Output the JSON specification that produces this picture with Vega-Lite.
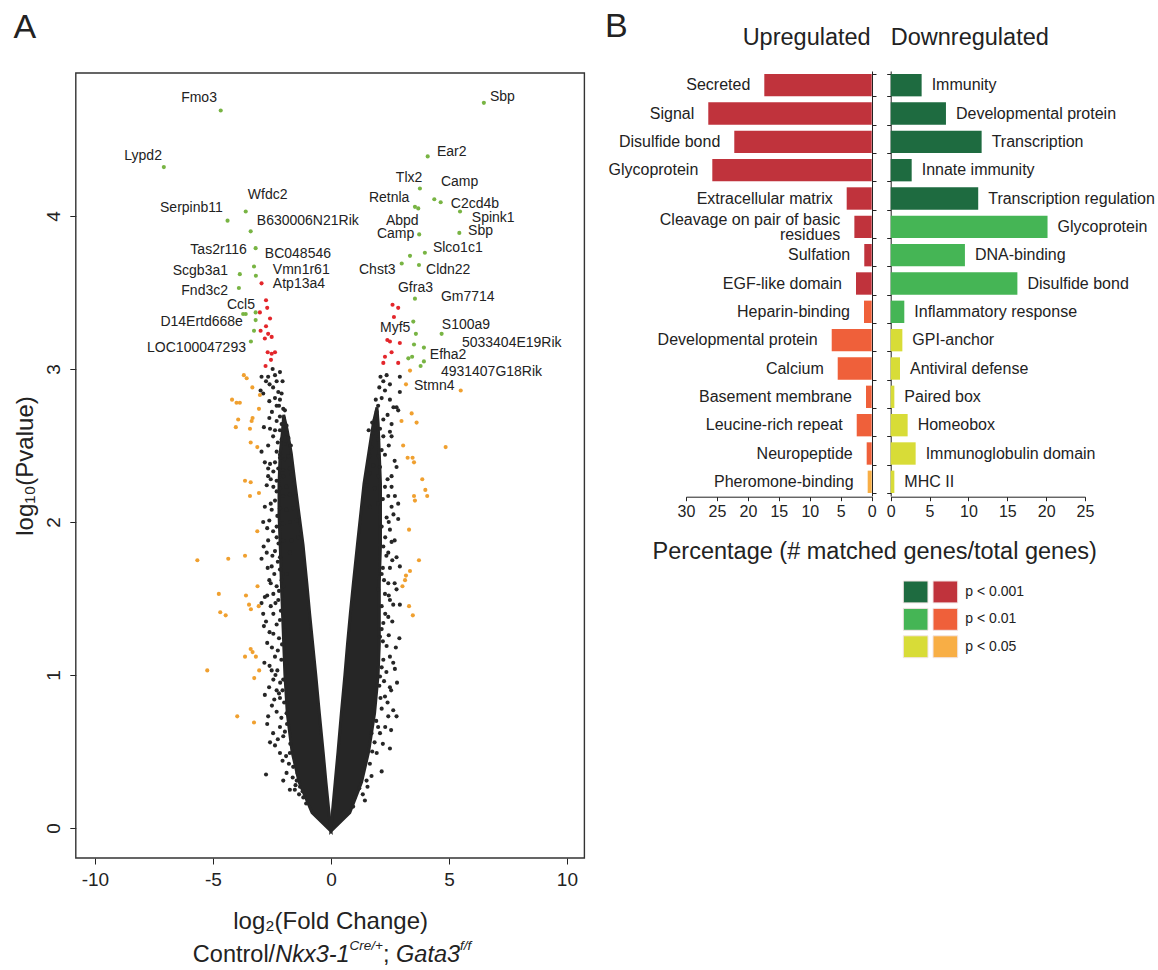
{
"$schema":"https://vega.github.io/schema/vega-lite/v6.json",
"width":1158,"height":970,"autosize":"none","padding":0,"background":"white",
"config":{"view":{"stroke":null},"font":"Liberation Sans","text":{"color":"#222"},
"axis":{"domainColor":"#222","tickColor":"#222","labelColor":"#222","titleColor":"#222","grid":false,"labelFlush":false,"titleFontWeight":"normal","labelFont":"Liberation Sans","titleFont":"Liberation Sans"}},
"datasets":{
"frame":[{"x":-10.81,"x2":10.74,"y":-0.196,"y2":4.935}],
"core":[
{"arm":"L","y":-0.02,"x":0,"x2":0},{"arm":"L","y":0.10,"x":-0.8,"x2":-0.08},{"arm":"L","y":0.30,"x":-1.35,"x2":-0.21},{"arm":"L","y":0.50,"x":-1.65,"x2":-0.33},{"arm":"L","y":0.75,"x":-1.85,"x2":-0.49},{"arm":"L","y":1.00,"x":-1.95,"x2":-0.64},{"arm":"L","y":1.20,"x":-2.0,"x2":-0.77},{"arm":"L","y":1.40,"x":-2.05,"x2":-0.90},{"arm":"L","y":1.60,"x":-2.1,"x2":-1.02},{"arm":"L","y":1.85,"x":-2.15,"x2":-1.18},{"arm":"L","y":2.05,"x":-2.2,"x2":-1.35},{"arm":"L","y":2.25,"x":-2.2,"x2":-1.52},{"arm":"L","y":2.45,"x":-2.15,"x2":-1.68},{"arm":"L","y":2.60,"x":-2.05,"x2":-1.85},{"arm":"L","y":2.70,"x":-2.0,"x2":-2.0},
{"arm":"R","y":-0.02,"x":0,"x2":0},{"arm":"R","y":0.10,"x":0.8,"x2":0.06},{"arm":"R","y":0.30,"x":1.3,"x2":0.18},{"arm":"R","y":0.50,"x":1.6,"x2":0.30},{"arm":"R","y":0.75,"x":1.85,"x2":0.44},{"arm":"R","y":1.00,"x":2.0,"x2":0.59},{"arm":"R","y":1.20,"x":2.05,"x2":0.70},{"arm":"R","y":1.40,"x":2.05,"x2":0.82},{"arm":"R","y":1.60,"x":2.05,"x2":0.95},{"arm":"R","y":1.85,"x":2.1,"x2":1.12},{"arm":"R","y":2.05,"x":2.1,"x2":1.26},{"arm":"R","y":2.25,"x":2.1,"x2":1.4},{"arm":"R","y":2.45,"x":2.05,"x2":1.6},{"arm":"R","y":2.65,"x":2.0,"x2":1.8},{"arm":"R","y":2.75,"x":1.95,"x2":1.95}
],
"points":[
{"x":-2.94,"y":2.95,"grp":"ns"},{"x":-2.66,"y":2.95,"grp":"ns"},{"x":-2.37,"y":2.96,"grp":"ns"},{"x":-2.16,"y":2.98,"grp":"ns"},{"x":-2.47,"y":3.00,"grp":"ns"},{"x":-2.75,"y":2.92,"grp":"ns"},{"x":-2.98,"y":2.86,"grp":"ns"},{"x":-2.87,"y":2.84,"grp":"ns"},{"x":-2.23,"y":2.85,"grp":"ns"},{"x":-2.09,"y":2.84,"grp":"ns"},{"x":-2.61,"y":2.79,"grp":"ns"},{"x":-2.37,"y":2.81,"grp":"ns"},{"x":-2.16,"y":2.80,"grp":"ns"},{"x":-2.30,"y":2.76,"grp":"ns"},{"x":-2.02,"y":2.74,"grp":"ns"},{"x":-1.95,"y":2.73,"grp":"ns"},{"x":-2.61,"y":2.68,"grp":"ns"},{"x":-2.16,"y":2.69,"grp":"ns"},{"x":-2.09,"y":2.64,"grp":"ns"},{"x":-1.88,"y":2.63,"grp":"ns"},{"x":-2.84,"y":2.62,"grp":"ns"},{"x":-2.58,"y":2.61,"grp":"ns"},{"x":-2.37,"y":2.60,"grp":"ns"},{"x":-2.16,"y":2.60,"grp":"ns"},{"x":-2.02,"y":2.57,"grp":"ns"},{"x":-1.88,"y":2.58,"grp":"ns"},{"x":-2.09,"y":2.54,"grp":"ns"},{"x":-1.95,"y":2.51,"grp":"ns"},{"x":-2.66,"y":2.50,"grp":"ns"},{"x":-2.30,"y":2.46,"grp":"ns"},{"x":-2.16,"y":2.44,"grp":"ns"},{"x":-2.94,"y":2.46,"grp":"ns"},{"x":-2.80,"y":2.39,"grp":"ns"},{"x":-2.58,"y":2.38,"grp":"ns"},{"x":-2.37,"y":2.39,"grp":"ns"},{"x":-2.16,"y":2.42,"grp":"ns"},{"x":-1.95,"y":2.41,"grp":"ns"},{"x":-1.81,"y":2.43,"grp":"ns"},{"x":-2.66,"y":2.35,"grp":"ns"},{"x":-2.44,"y":2.33,"grp":"ns"},{"x":-2.23,"y":2.35,"grp":"ns"},{"x":-2.02,"y":2.34,"grp":"ns"},{"x":-1.74,"y":2.35,"grp":"ns"},{"x":-2.66,"y":2.30,"grp":"ns"},{"x":-2.30,"y":2.27,"grp":"ns"},{"x":-2.02,"y":2.30,"grp":"ns"},{"x":-1.67,"y":2.31,"grp":"ns"},{"x":-2.72,"y":2.24,"grp":"ns"},{"x":-2.44,"y":2.23,"grp":"ns"},{"x":-2.16,"y":2.22,"grp":"ns"},{"x":-1.88,"y":2.23,"grp":"ns"},{"x":-1.60,"y":2.25,"grp":"ns"},{"x":-2.37,"y":2.14,"grp":"ns"},{"x":-2.02,"y":2.17,"grp":"ns"},{"x":-1.74,"y":2.18,"grp":"ns"},{"x":-1.53,"y":2.17,"grp":"ns"},{"x":-2.51,"y":2.08,"grp":"ns"},{"x":-2.16,"y":2.09,"grp":"ns"},{"x":-1.88,"y":2.08,"grp":"ns"},{"x":-1.60,"y":2.09,"grp":"ns"},{"x":-2.87,"y":2.00,"grp":"ns"},{"x":-2.61,"y":2.01,"grp":"ns"},{"x":-2.30,"y":1.97,"grp":"ns"},{"x":-2.02,"y":1.99,"grp":"ns"},{"x":-1.74,"y":2.00,"grp":"ns"},{"x":-1.45,"y":2.01,"grp":"ns"},{"x":-2.66,"y":1.88,"grp":"ns"},{"x":-2.30,"y":1.90,"grp":"ns"},{"x":-2.02,"y":1.88,"grp":"ns"},{"x":-1.67,"y":1.88,"grp":"ns"},{"x":-1.39,"y":1.90,"grp":"ns"},{"x":-2.72,"y":1.80,"grp":"ns"},{"x":-2.37,"y":1.81,"grp":"ns"},{"x":-2.16,"y":1.77,"grp":"ns"},{"x":-1.74,"y":1.80,"grp":"ns"},{"x":-2.94,"y":1.76,"grp":"ns"},{"x":-2.51,"y":1.71,"grp":"ns"},{"x":-2.16,"y":1.69,"grp":"ns"},{"x":-1.88,"y":1.66,"grp":"ns"},{"x":-2.61,"y":1.62,"grp":"ns"},{"x":-2.30,"y":1.58,"grp":"ns"},{"x":-2.09,"y":1.62,"grp":"ns"},{"x":-2.80,"y":1.51,"grp":"ns"},{"x":-2.44,"y":1.53,"grp":"ns"},
{"x":-2.70,"y":1.52,"grp":"ns"},{"x":-2.87,"y":1.40,"grp":"ns"},{"x":-2.44,"y":1.40,"grp":"ns"},{"x":-2.84,"y":1.32,"grp":"ns"},{"x":-2.70,"y":1.21,"grp":"ns"},{"x":-2.37,"y":1.12,"grp":"ns"},{"x":-2.51,"y":1.03,"grp":"ns"},{"x":-2.27,"y":1.03,"grp":"ns"},{"x":-2.44,"y":0.97,"grp":"ns"},{"x":-2.80,"y":0.87,"grp":"ns"},{"x":-2.30,"y":0.90,"grp":"ns"},{"x":-2.16,"y":0.85,"grp":"ns"},{"x":-2.66,"y":0.73,"grp":"ns"},{"x":-2.70,"y":0.68,"grp":"ns"},{"x":-2.16,"y":0.66,"grp":"ns"},{"x":-2.58,"y":0.56,"grp":"ns"},{"x":-2.37,"y":0.54,"grp":"ns"},{"x":-2.16,"y":0.49,"grp":"ns"},{"x":-1.74,"y":0.49,"grp":"ns"},{"x":-2.75,"y":0.35,"grp":"ns"},{"x":-1.88,"y":0.36,"grp":"ns"},{"x":-1.74,"y":0.25,"grp":"ns"},{"x":-1.53,"y":0.25,"grp":"ns"},{"x":-1.17,"y":0.20,"grp":"ns"},{"x":-2.02,"y":0.31,"grp":"ns"},{"x":-2.44,"y":1.27,"grp":"ns"},{"x":-2.16,"y":1.36,"grp":"ns"},{"x":-2.23,"y":1.49,"grp":"ns"},{"x":-2.02,"y":1.58,"grp":"ns"},{"x":-2.94,"y":1.47,"grp":"ns"},{"x":-1.88,"y":0.75,"grp":"ns"},{"x":-2.02,"y":0.60,"grp":"ns"},{"x":-1.60,"y":0.40,"grp":"ns"},{"x":-1.45,"y":0.31,"grp":"ns"},{"x":-1.31,"y":0.27,"grp":"ns"},{"x":-1.95,"y":1.29,"grp":"ns"},{"x":-1.88,"y":1.08,"grp":"ns"},{"x":-2.02,"y":0.97,"grp":"ns"},
{"x":-1.05,"y":0.16,"grp":"ns"},{"x":-1.2,"y":0.24,"grp":"ns"},{"x":-1.35,"y":0.22,"grp":"ns"},{"x":-1.5,"y":0.28,"grp":"ns"},{"x":-1.62,"y":0.33,"grp":"ns"},{"x":-1.42,"y":0.36,"grp":"ns"},{"x":-1.78,"y":0.42,"grp":"ns"},{"x":-1.9,"y":0.47,"grp":"ns"},{"x":-2.05,"y":0.44,"grp":"ns"},{"x":-1.72,"y":0.55,"grp":"ns"},{"x":-2.25,"y":0.58,"grp":"ns"},{"x":-1.95,"y":0.63,"grp":"ns"},{"x":-2.45,"y":0.62,"grp":"ns"},{"x":-1.86,"y":0.68,"grp":"ns"},{"x":-2.1,"y":0.72,"grp":"ns"},{"x":-2.3,"y":0.76,"grp":"ns"},{"x":-2.5,"y":0.8,"grp":"ns"},{"x":-1.98,"y":0.82,"grp":"ns"},{"x":-2.2,"y":0.88,"grp":"ns"},{"x":-2.62,"y":0.92,"grp":"ns"},{"x":-2.05,"y":0.9,"grp":"ns"},{"x":-2.4,"y":0.84,"grp":"ns"},{"x":-2.15,"y":0.95,"grp":"ns"},{"x":-2.35,"y":1.0,"grp":"ns"},{"x":-2.6,"y":1.06,"grp":"ns"},{"x":-2.1,"y":1.1,"grp":"ns"},{"x":-2.82,"y":1.08,"grp":"ns"},{"x":-2.25,"y":1.16,"grp":"ns"},{"x":-2.5,"y":1.18,"grp":"ns"},{"x":-2.07,"y":1.2,"grp":"ns"},{"x":-2.2,"y":1.24,"grp":"ns"},{"x":-2.6,"y":1.28,"grp":"ns"},{"x":-2.3,"y":1.33,"grp":"ns"},{"x":-2.75,"y":1.35,"grp":"ns"},{"x":-2.12,"y":1.42,"grp":"ns"},{"x":-2.55,"y":1.45,"grp":"ns"},{"x":-2.35,"y":1.47,"grp":"ns"},{"x":-2.2,"y":1.55,"grp":"ns"},{"x":-2.55,"y":1.6,"grp":"ns"},{"x":-2.4,"y":1.66,"grp":"ns"},{"x":-2.68,"y":1.7,"grp":"ns"},{"x":-2.25,"y":1.74,"grp":"ns"},{"x":-2.48,"y":1.78,"grp":"ns"},{"x":-2.85,"y":1.84,"grp":"ns"},{"x":-2.22,"y":1.86,"grp":"ns"},{"x":-2.45,"y":1.94,"grp":"ns"},{"x":-2.7,"y":1.96,"grp":"ns"},{"x":-2.27,"y":2.04,"grp":"ns"},{"x":-2.55,"y":2.12,"grp":"ns"},{"x":-2.8,"y":2.1,"grp":"ns"},{"x":-2.3,"y":2.2,"grp":"ns"},{"x":-2.55,"y":2.28,"grp":"ns"},{"x":-1.7,"y":2.5,"grp":"ns"},{"x":-1.8,"y":2.55,"grp":"ns"},{"x":-2.25,"y":2.52,"grp":"ns"},{"x":-2.45,"y":2.56,"grp":"ns"},{"x":-2.3,"y":2.66,"grp":"ns"},{"x":-2.0,"y":2.68,"grp":"ns"},{"x":-2.5,"y":2.72,"grp":"ns"},{"x":-2.2,"y":2.76,"grp":"ns"},{"x":-2.45,"y":2.88,"grp":"ns"},{"x":-2.05,"y":2.92,"grp":"ns"},{"x":-2.6,"y":2.9,"grp":"ns"},{"x":-2.3,"y":2.92,"grp":"ns"},
{"x":2.64,"y":1.46,"grp":"ns"},{"x":2.92,"y":1.46,"grp":"ns"},{"x":2.22,"y":1.34,"grp":"ns"},{"x":2.43,"y":1.38,"grp":"ns"},{"x":2.08,"y":1.25,"grp":"ns"},{"x":2.64,"y":1.08,"grp":"ns"},{"x":2.71,"y":1.04,"grp":"ns"},{"x":2.50,"y":0.92,"grp":"ns"},{"x":2.29,"y":0.86,"grp":"ns"},{"x":2.64,"y":0.77,"grp":"ns"},{"x":2.78,"y":0.73,"grp":"ns"},{"x":2.43,"y":0.73,"grp":"ns"},{"x":2.08,"y":0.62,"grp":"ns"},{"x":2.50,"y":0.52,"grp":"ns"},{"x":2.15,"y":0.37,"grp":"ns"},{"x":1.72,"y":0.34,"grp":"ns"},{"x":1.51,"y":0.31,"grp":"ns"},{"x":1.44,"y":0.18,"grp":"ns"},{"x":0.94,"y":0.14,"grp":"ns"},{"x":1.94,"y":0.49,"grp":"ns"},{"x":2.22,"y":1.10,"grp":"ns"},{"x":2.36,"y":1.19,"grp":"ns"},{"x":2.08,"y":0.99,"grp":"ns"},{"x":1.79,"y":0.79,"grp":"ns"},{"x":2.00,"y":0.66,"grp":"ns"},{"x":1.65,"y":0.42,"grp":"ns"},{"x":2.78,"y":1.56,"grp":"ns"},{"x":2.50,"y":1.49,"grp":"ns"},
{"x":1.0,"y":0.2,"grp":"ns"},{"x":1.2,"y":0.26,"grp":"ns"},{"x":1.35,"y":0.22,"grp":"ns"},{"x":1.55,"y":0.27,"grp":"ns"},{"x":1.33,"y":0.38,"grp":"ns"},{"x":1.47,"y":0.44,"grp":"ns"},{"x":1.75,"y":0.5,"grp":"ns"},{"x":1.85,"y":0.56,"grp":"ns"},{"x":2.2,"y":0.55,"grp":"ns"},{"x":1.72,"y":0.62,"grp":"ns"},{"x":2.3,"y":0.66,"grp":"ns"},{"x":1.92,"y":0.7,"grp":"ns"},{"x":2.55,"y":0.64,"grp":"ns"},{"x":2.15,"y":0.78,"grp":"ns"},{"x":2.1,"y":0.85,"grp":"ns"},{"x":2.4,"y":0.82,"grp":"ns"},{"x":2.55,"y":0.9,"grp":"ns"},{"x":2.05,"y":0.93,"grp":"ns"},{"x":2.25,"y":0.96,"grp":"ns"},{"x":2.8,"y":0.95,"grp":"ns"},{"x":2.35,"y":1.02,"grp":"ns"},{"x":2.15,"y":1.05,"grp":"ns"},{"x":2.5,"y":1.12,"grp":"ns"},{"x":2.75,"y":1.18,"grp":"ns"},{"x":2.2,"y":1.22,"grp":"ns"},{"x":2.45,"y":1.26,"grp":"ns"},{"x":2.9,"y":1.24,"grp":"ns"},{"x":2.15,"y":1.3,"grp":"ns"},{"x":2.3,"y":1.4,"grp":"ns"},{"x":2.6,"y":1.35,"grp":"ns"},{"x":2.15,"y":1.45,"grp":"ns"},{"x":2.45,"y":1.52,"grp":"ns"},{"x":2.7,"y":1.6,"grp":"ns"},{"x":2.25,"y":1.62,"grp":"ns"},{"x":2.2,"y":1.7,"grp":"ns"},{"x":2.6,"y":1.75,"grp":"ns"},{"x":2.35,"y":1.78,"grp":"ns"},{"x":2.7,"y":1.88,"grp":"ns"},{"x":2.3,"y":1.9,"grp":"ns"},{"x":2.45,"y":2.0,"grp":"ns"},{"x":2.65,"y":2.05,"grp":"ns"},{"x":2.2,"y":2.15,"grp":"ns"},{"x":2.4,"y":2.28,"grp":"ns"},{"x":2.7,"y":2.4,"grp":"ns"},{"x":2.45,"y":2.5,"grp":"ns"},{"x":1.6,"y":2.6,"grp":"ns"},{"x":1.75,"y":2.65,"grp":"ns"},{"x":1.9,"y":2.8,"grp":"ns"},{"x":2.05,"y":2.88,"grp":"ns"},{"x":2.4,"y":2.7,"grp":"ns"},{"x":2.65,"y":2.75,"grp":"ns"},{"x":2.1,"y":2.95,"grp":"ns"},{"x":2.5,"y":2.9,"grp":"ns"},
{"x":2.36,"y":2.96,"grp":"ns"},{"x":2.22,"y":2.92,"grp":"ns"},{"x":2.29,"y":2.86,"grp":"ns"},{"x":2.92,"y":2.95,"grp":"ns"},{"x":2.92,"y":2.85,"grp":"ns"},{"x":2.15,"y":2.81,"grp":"ns"},{"x":2.50,"y":2.80,"grp":"ns"},{"x":2.00,"y":2.76,"grp":"ns"},{"x":2.78,"y":2.75,"grp":"ns"},{"x":1.94,"y":2.72,"grp":"ns"},{"x":2.85,"y":2.73,"grp":"ns"},{"x":1.86,"y":2.67,"grp":"ns"},{"x":2.22,"y":2.67,"grp":"ns"},{"x":2.57,"y":2.64,"grp":"ns"},{"x":2.08,"y":2.61,"grp":"ns"},{"x":1.79,"y":2.58,"grp":"ns"},{"x":2.50,"y":2.59,"grp":"ns"},{"x":2.22,"y":2.56,"grp":"ns"},{"x":2.00,"y":2.54,"grp":"ns"},{"x":2.57,"y":2.56,"grp":"ns"},{"x":1.72,"y":2.49,"grp":"ns"},{"x":2.15,"y":2.47,"grp":"ns"},{"x":1.65,"y":2.43,"grp":"ns"},{"x":2.00,"y":2.43,"grp":"ns"},{"x":2.29,"y":2.44,"grp":"ns"},{"x":1.79,"y":2.37,"grp":"ns"},{"x":2.08,"y":2.36,"grp":"ns"},{"x":2.78,"y":2.36,"grp":"ns"},{"x":1.65,"y":2.32,"grp":"ns"},{"x":2.00,"y":2.30,"grp":"ns"},{"x":2.57,"y":2.30,"grp":"ns"},{"x":1.51,"y":2.24,"grp":"ns"},{"x":1.86,"y":2.22,"grp":"ns"},{"x":2.29,"y":2.23,"grp":"ns"},{"x":2.57,"y":2.23,"grp":"ns"},{"x":2.43,"y":2.17,"grp":"ns"},{"x":2.71,"y":2.17,"grp":"ns"},{"x":2.85,"y":2.12,"grp":"ns"},{"x":2.57,"y":2.10,"grp":"ns"},{"x":1.65,"y":2.10,"grp":"ns"},{"x":2.00,"y":2.12,"grp":"ns"},{"x":2.36,"y":2.03,"grp":"ns"},{"x":2.85,"y":2.02,"grp":"ns"},{"x":2.50,"y":1.95,"grp":"ns"},{"x":2.15,"y":1.97,"grp":"ns"},{"x":2.57,"y":1.87,"grp":"ns"},{"x":2.22,"y":1.84,"grp":"ns"},{"x":2.43,"y":1.80,"grp":"ns"},{"x":2.78,"y":1.77,"grp":"ns"},{"x":2.50,"y":1.70,"grp":"ns"},{"x":2.92,"y":1.71,"grp":"ns"},{"x":2.15,"y":1.66,"grp":"ns"},{"x":2.43,"y":1.60,"grp":"ns"},{"x":2.00,"y":1.56,"grp":"ns"},{"x":2.29,"y":1.53,"grp":"ns"},
{"x":-2.94,"y":3.56,"grp":"fdr"},{"x":-2.75,"y":3.45,"grp":"fdr"},{"x":-2.70,"y":3.40,"grp":"fdr"},{"x":-3.01,"y":3.37,"grp":"fdr"},{"x":-2.58,"y":3.33,"grp":"fdr"},{"x":-2.75,"y":3.28,"grp":"fdr"},{"x":-2.98,"y":3.25,"grp":"fdr"},{"x":-2.66,"y":3.23,"grp":"fdr"},{"x":-2.80,"y":3.20,"grp":"fdr"},{"x":-2.51,"y":3.21,"grp":"fdr"},{"x":-2.68,"y":3.11,"grp":"fdr"},{"x":-2.51,"y":3.10,"grp":"fdr"},{"x":-2.37,"y":3.11,"grp":"fdr"},{"x":-2.54,"y":3.06,"grp":"fdr"},{"x":-2.77,"y":3.02,"grp":"fdr"},
{"x":2.61,"y":3.42,"grp":"fdr"},{"x":2.85,"y":3.40,"grp":"fdr"},{"x":2.67,"y":3.34,"grp":"fdr"},{"x":2.39,"y":3.19,"grp":"fdr"},{"x":2.50,"y":3.18,"grp":"fdr"},{"x":2.92,"y":3.17,"grp":"fdr"},{"x":2.57,"y":3.11,"grp":"fdr"},{"x":2.22,"y":3.04,"grp":"fdr"},{"x":2.85,"y":3.04,"grp":"fdr"},{"x":2.29,"y":3.08,"grp":"fdr"},
{"x":-4.67,"y":4.69,"grp":"hit"},{"x":-7.08,"y":4.32,"grp":"hit"},{"x":-3.61,"y":4.03,"grp":"hit"},{"x":-4.38,"y":3.97,"grp":"hit"},{"x":-3.40,"y":3.90,"grp":"hit"},{"x":-3.19,"y":3.79,"grp":"hit"},{"x":-3.26,"y":3.67,"grp":"hit"},{"x":-3.18,"y":3.61,"grp":"hit"},{"x":-3.86,"y":3.62,"grp":"hit"},{"x":-3.90,"y":3.53,"grp":"hit"},{"x":-3.19,"y":3.37,"grp":"hit"},{"x":-3.72,"y":3.36,"grp":"hit"},{"x":-3.61,"y":3.36,"grp":"hit"},{"x":-3.19,"y":3.32,"grp":"hit"},{"x":-3.26,"y":3.25,"grp":"hit"},{"x":-3.39,"y":3.18,"grp":"hit"},
{"x":6.48,"y":4.74,"grp":"hit"},{"x":4.10,"y":4.39,"grp":"hit"},{"x":3.77,"y":4.18,"grp":"hit"},{"x":4.38,"y":4.11,"grp":"hit"},{"x":4.65,"y":4.09,"grp":"hit"},{"x":3.56,"y":4.06,"grp":"hit"},{"x":3.70,"y":4.05,"grp":"hit"},{"x":5.47,"y":4.03,"grp":"hit"},{"x":3.74,"y":3.88,"grp":"hit"},{"x":5.44,"y":3.89,"grp":"hit"},{"x":3.98,"y":3.76,"grp":"hit"},{"x":3.35,"y":3.74,"grp":"hit"},{"x":3.00,"y":3.69,"grp":"hit"},{"x":3.73,"y":3.68,"grp":"hit"},{"x":3.56,"y":3.46,"grp":"hit"},{"x":3.49,"y":3.31,"grp":"hit"},{"x":3.60,"y":3.23,"grp":"hit"},{"x":4.69,"y":3.23,"grp":"hit"},{"x":3.52,"y":3.16,"grp":"hit"},{"x":3.94,"y":3.14,"grp":"hit"},{"x":3.28,"y":3.07,"grp":"hit"},{"x":3.44,"y":3.08,"grp":"hit"},{"x":3.80,"y":3.02,"grp":"hit"},{"x":3.94,"y":3.05,"grp":"hit"},
{"x":-3.69,"y":2.96,"grp":"nominal"},{"x":-3.57,"y":2.94,"grp":"nominal"},{"x":-3.33,"y":2.88,"grp":"nominal"},{"x":-3.01,"y":2.83,"grp":"nominal"},{"x":-4.19,"y":2.80,"grp":"nominal"},{"x":-4.00,"y":2.78,"grp":"nominal"},{"x":-3.86,"y":2.78,"grp":"nominal"},{"x":-3.05,"y":2.74,"grp":"nominal"},{"x":-3.93,"y":2.67,"grp":"nominal"},{"x":-3.32,"y":2.68,"grp":"nominal"},{"x":-3.36,"y":2.66,"grp":"nominal"},{"x":-4.03,"y":2.62,"grp":"nominal"},{"x":-3.43,"y":2.61,"grp":"nominal"},{"x":-3.40,"y":2.52,"grp":"nominal"},{"x":-3.12,"y":2.49,"grp":"nominal"},{"x":-3.64,"y":2.27,"grp":"nominal"},{"x":-3.40,"y":2.26,"grp":"nominal"},{"x":-3.43,"y":2.17,"grp":"nominal"},{"x":-3.05,"y":2.19,"grp":"nominal"},{"x":-3.12,"y":1.94,"grp":"nominal"},{"x":-5.66,"y":1.75,"grp":"nominal"},{"x":-4.35,"y":1.76,"grp":"nominal"},{"x":-3.64,"y":1.78,"grp":"nominal"},{"x":-3.11,"y":1.58,"grp":"nominal"},{"x":-4.75,"y":1.53,"grp":"nominal"},{"x":-3.60,"y":1.52,"grp":"nominal"},{"x":-3.47,"y":1.46,"grp":"nominal"},{"x":-3.39,"y":1.43,"grp":"nominal"},{"x":-3.06,"y":1.45,"grp":"nominal"},{"x":-4.69,"y":1.41,"grp":"nominal"},{"x":-4.46,"y":1.39,"grp":"nominal"},{"x":-3.40,"y":1.17,"grp":"nominal"},{"x":-3.32,"y":1.15,"grp":"nominal"},{"x":-3.18,"y":1.12,"grp":"nominal"},{"x":-3.64,"y":1.12,"grp":"nominal"},{"x":-3.04,"y":1.03,"grp":"nominal"},{"x":-5.24,"y":1.03,"grp":"nominal"},{"x":-3.25,"y":0.98,"grp":"nominal"},{"x":-3.97,"y":0.73,"grp":"nominal"},{"x":-3.26,"y":0.69,"grp":"nominal"},
{"x":3.35,"y":2.99,"grp":"nominal"},{"x":3.18,"y":2.90,"grp":"nominal"},{"x":5.50,"y":2.86,"grp":"nominal"},{"x":3.42,"y":2.71,"grp":"nominal"},{"x":2.99,"y":2.66,"grp":"nominal"},{"x":3.63,"y":2.65,"grp":"nominal"},{"x":4.86,"y":2.49,"grp":"nominal"},{"x":3.06,"y":2.50,"grp":"nominal"},{"x":3.25,"y":2.42,"grp":"nominal"},{"x":3.46,"y":2.42,"grp":"nominal"},{"x":3.52,"y":2.39,"grp":"nominal"},{"x":3.87,"y":2.28,"grp":"nominal"},{"x":4.00,"y":2.21,"grp":"nominal"},{"x":4.08,"y":2.17,"grp":"nominal"},{"x":3.52,"y":2.17,"grp":"nominal"},{"x":3.56,"y":2.14,"grp":"nominal"},{"x":3.31,"y":1.95,"grp":"nominal"},{"x":3.73,"y":1.75,"grp":"nominal"},{"x":3.35,"y":1.68,"grp":"nominal"},{"x":3.18,"y":1.65,"grp":"nominal"},{"x":3.14,"y":1.62,"grp":"nominal"},{"x":3.03,"y":1.58,"grp":"nominal"},{"x":3.31,"y":1.45,"grp":"nominal"},{"x":3.47,"y":1.39,"grp":"nominal"}
],
"labelsEnd":[
{"label":"Fmo3","x":-4.83,"y":4.77},{"label":"Lypd2","x":-7.16,"y":4.39},{"label":"Serpinb11","x":-4.58,"y":4.05},{"label":"Tas2r116","x":-3.56,"y":3.78},{"label":"Scgb3a1","x":-4.36,"y":3.64},{"label":"Fnd3c2","x":-4.36,"y":3.51},{"label":"Ccl5","x":-3.22,"y":3.42},{"label":"D14Ertd668e","x":-3.73,"y":3.31},{"label":"LOC100047293","x":-3.60,"y":3.14}
],
"labelsStart":[
{"label":"Wfdc2","x":-3.52,"y":4.14},{"label":"B630006N21Rik","x":-3.14,"y":3.97},{"label":"BC048546","x":-2.80,"y":3.75},{"label":"Vmn1r61","x":-2.46,"y":3.645},{"label":"Atp13a4","x":-2.46,"y":3.555},
{"label":"Sbp","x":6.74,"y":4.78},{"label":"Ear2","x":4.49,"y":4.42},{"label":"Tlx2","x":2.75,"y":4.25},{"label":"Camp","x":4.66,"y":4.22},{"label":"Retnla","x":1.61,"y":4.12},{"label":"C2cd4b","x":5.08,"y":4.08},{"label":"Spink1","x":5.97,"y":3.99},{"label":"Abpd","x":2.33,"y":3.97},{"label":"Sbp","x":5.81,"y":3.90},{"label":"Camp","x":1.95,"y":3.88},{"label":"Slco1c1","x":4.32,"y":3.79},{"label":"Chst3","x":1.19,"y":3.65},{"label":"Cldn22","x":4.03,"y":3.65},{"label":"Gfra3","x":2.84,"y":3.53},{"label":"Gm7714","x":4.66,"y":3.47},{"label":"S100a9","x":4.70,"y":3.29},{"label":"Myf5","x":2.08,"y":3.27},{"label":"5033404E19Rik","x":5.55,"y":3.17},{"label":"Efha2","x":4.19,"y":3.09},{"label":"4931407G18Rik","x":4.66,"y":2.98},{"label":"Stmn4","x":3.52,"y":2.89}
],
"notes":[
{"kind":"letter","text":"A","x":-13.45,"y":5.163},
{"kind":"letter","text":"B","x":11.61,"y":5.172},
{"kind":"headR","text":"Upregulated","x":22.87,"y":5.161},
{"kind":"headL","text":"Downregulated","x":23.72,"y":5.161},
{"kind":"headC","text":"Percentage (# matched genes/total genes)","x":23.04,"y":1.806},
{"kind":"plain","text":"Control/","x":-5.85,"y":-0.83},
{"kind":"gene","text":"Nkx3-1","x":-2.36,"y":-0.83},
{"kind":"allele","text":"Cre/+","x":0.79,"y":-0.771},
{"kind":"plain","text":";","x":2.21,"y":-0.83},
{"kind":"gene","text":"Gata3","x":2.76,"y":-0.83},
{"kind":"allele","text":"f/f","x":5.47,"y":-0.771}
],
"up":[
{"term":"Secreted","pct":17.35,"sig":"p001"},{"term":"Signal","pct":26.4,"sig":"p001"},{"term":"Disulfide bond","pct":22.2,"sig":"p001"},{"term":"Glycoprotein","pct":25.75,"sig":"p001"},{"term":"Extracellular matrix","pct":4.04,"sig":"p001"},{"term":"Cleavage on pair of basic\nresidues","pct":2.8,"sig":"p001"},{"term":"Sulfation","pct":1.2,"sig":"p001"},{"term":"EGF-like domain","pct":2.54,"sig":"p001"},{"term":"Heparin-binding","pct":1.24,"sig":"p01"},{"term":"Developmental protein","pct":6.46,"sig":"p01"},{"term":"Calcium","pct":5.49,"sig":"p01"},{"term":"Basement membrane","pct":0.92,"sig":"p01"},{"term":"Leucine-rich repeat","pct":2.42,"sig":"p01"},{"term":"Neuropeptide","pct":0.81,"sig":"p01"},{"term":"Pheromone-binding","pct":0.65,"sig":"p05"}
],
"down":[
{"term":"Immunity","pct":3.98,"sig":"p001"},{"term":"Developmental protein","pct":7.11,"sig":"p001"},{"term":"Transcription","pct":11.7,"sig":"p001"},{"term":"Innate immunity","pct":2.7,"sig":"p001"},{"term":"Transcription regulation","pct":11.26,"sig":"p001"},{"term":"Glycoprotein","pct":20.18,"sig":"p01"},{"term":"DNA-binding","pct":9.55,"sig":"p01"},{"term":"Disulfide bond","pct":16.3,"sig":"p01"},{"term":"Inflammatory response","pct":1.75,"sig":"p01"},{"term":"GPI-anchor","pct":1.5,"sig":"p05"},{"term":"Antiviral defense","pct":1.2,"sig":"p05"},{"term":"Paired box","pct":0.47,"sig":"p05"},{"term":"Homeobox","pct":2.18,"sig":"p05"},{"term":"Immunoglobulin domain","pct":3.21,"sig":"p05"},{"term":"MHC II","pct":0.47,"sig":"p05"}
],
"legend":[
{"col":"down","row":"p001","key":"down-p001","label":"p < 0.001"},{"col":"up","row":"p001","key":"up-p001","label":"p < 0.001"},
{"col":"down","row":"p01","key":"down-p01","label":"p < 0.01"},{"col":"up","row":"p01","key":"up-p01","label":"p < 0.01"},
{"col":"down","row":"p05","key":"down-p05","label":"p < 0.05"},{"col":"up","row":"p05","key":"up-p05","label":"p < 0.05"}
]
},
"layer":[
{
"encoding":{
"x":{"field":"x","type":"quantitative","scale":{"domain":[-10.81,10.74],"range":[75.8,584.4],"nice":false,"zero":false},
"axis":{"orient":"bottom","offset":-112,"values":[-10,-5,0,5,10],"labelExpr":"datum.value < 0 ? '-' + abs(datum.value) : '' + datum.value","domain":false,"tickSize":6,"labelFontSize":19,"labelPadding":6,"title":"log₂(Fold Change)","titleFontSize":24,"titlePadding":20}},
"y":{"field":"y","type":"quantitative","scale":{"domain":[-0.196,4.935],"range":[858,73],"nice":false,"zero":false},
"axis":{"orient":"left","offset":-75.8,"values":[0,1,2,3,4],"domain":false,"tickSize":6,"labelFontSize":19,"labelAngle":-90,"labelPadding":6,"title":"log₁₀(Pvalue)","titleFontSize":24,"titlePadding":7}}
},
"layer":[
{"data":{"name":"frame"},"mark":{"type":"rect","fill":"transparent","stroke":"#333","strokeWidth":1.4},"encoding":{"x2":{"field":"x2"},"y2":{"field":"y2"}}},
{"data":{"name":"core"},"mark":{"type":"area","orient":"horizontal","color":"#262626","stroke":"#262626","strokeWidth":3},"encoding":{"x2":{"field":"x2"},"detail":{"field":"arm"}}},
{"data":{"name":"points"},"mark":{"type":"circle","size":17,"opacity":1},"encoding":{"color":{"field":"grp","type":"nominal","scale":{"domain":["ns","fdr","hit","nominal"],"range":["#262626","#e3262b","#78b443","#f0a02f"]},"legend":null}}},
{"data":{"name":"labelsEnd"},"mark":{"type":"text","align":"right","baseline":"middle","fontSize":14},"encoding":{"text":{"field":"label"}}},
{"data":{"name":"labelsStart"},"mark":{"type":"text","align":"left","baseline":"middle","fontSize":14},"encoding":{"text":{"field":"label"}}},
{"data":{"name":"notes"},"transform":[{"filter":"datum.kind==='letter'"}],"mark":{"type":"text","align":"left","baseline":"alphabetic","fontSize":34},"encoding":{"text":{"field":"text"}}},
{"data":{"name":"notes"},"transform":[{"filter":"datum.kind==='headR'"}],"mark":{"type":"text","align":"right","baseline":"middle","fontSize":23.5},"encoding":{"text":{"field":"text"}}},
{"data":{"name":"notes"},"transform":[{"filter":"datum.kind==='headL'"}],"mark":{"type":"text","align":"left","baseline":"middle","fontSize":23.5},"encoding":{"text":{"field":"text"}}},
{"data":{"name":"notes"},"transform":[{"filter":"datum.kind==='headC'"}],"mark":{"type":"text","align":"center","baseline":"middle","fontSize":23.5},"encoding":{"text":{"field":"text"}}},
{"data":{"name":"notes"},"transform":[{"filter":"datum.kind==='plain'"}],"mark":{"type":"text","align":"left","baseline":"middle","fontSize":23.5},"encoding":{"text":{"field":"text"}}},
{"data":{"name":"notes"},"transform":[{"filter":"datum.kind==='gene'"}],"mark":{"type":"text","align":"left","baseline":"middle","fontSize":23.5,"fontStyle":"italic"},"encoding":{"text":{"field":"text"}}},
{"data":{"name":"notes"},"transform":[{"filter":"datum.kind==='allele'"}],"mark":{"type":"text","align":"left","baseline":"middle","fontSize":13.5,"fontStyle":"italic"},"encoding":{"text":{"field":"text"}}}
]
},
{
"data":{"name":"up"},
"encoding":{
"y":{"field":"term","type":"nominal","sort":null,"scale":{"domain":["Secreted","Signal","Disulfide bond","Glycoprotein","Extracellular matrix","Cleavage on pair of basic\nresidues","Sulfation","EGF-like domain","Heparin-binding","Developmental protein","Calcium","Basement membrane","Leucine-rich repeat","Neuropeptide","Pheromone-binding"],"range":[71,496],"paddingInner":0.21,"paddingOuter":0.105},
"axis":{"orient":"right","offset":-286,"labels":false,"title":null,"tickBand":"extent","tickSize":4}},
"x":{"field":"pct","type":"quantitative","scale":{"domain":[0,30],"range":[871.7,686],"nice":false},
"axis":{"orient":"bottom","offset":-473.3,"values":[0,5,10,15,20,25,30],"title":null,"tickSize":4,"labelFontSize":16,"labelPadding":3}}
},
"layer":[
{"mark":{"type":"bar"},"encoding":{"color":{"field":"sig","type":"nominal","scale":{"domain":["p001","p01","p05"],"range":["#c0333c","#ef603a","#f8ae45"]},"legend":null}}},
{"transform":[{"filter":"indexof(datum.term,'Cleavage')<0"}],"mark":{"type":"text","align":"right","baseline":"middle","dx":-14,"fontSize":16},"encoding":{"text":{"field":"term"}}},
{"transform":[{"filter":"indexof(datum.term,'Cleavage')>=0"}],"mark":{"type":"text","align":"right","baseline":"middle","dx":-14,"dy":-7,"fontSize":16,"lineBreak":"\n","lineHeight":15},"encoding":{"text":{"field":"term"}}}
]
},
{
"data":{"name":"down"},
"encoding":{
"y":{"field":"term","type":"nominal","sort":null,"scale":{"domain":["Immunity","Developmental protein","Transcription","Innate immunity","Transcription regulation","Glycoprotein","DNA-binding","Disulfide bond","Inflammatory response","GPI-anchor","Antiviral defense","Paired box","Homeobox","Immunoglobulin domain","MHC II"],"range":[71,496],"paddingInner":0.21,"paddingOuter":0.105},
"axis":{"orient":"left","offset":-890.7,"labels":false,"title":null,"tickBand":"extent","tickSize":4}},
"x":{"field":"pct","type":"quantitative","scale":{"domain":[0,25],"range":[890.7,1085],"nice":false},
"axis":{"orient":"bottom","offset":-473.3,"values":[0,5,10,15,20,25],"title":null,"tickSize":4,"labelFontSize":16,"labelPadding":3}}
},
"layer":[
{"mark":{"type":"bar"},"encoding":{"color":{"field":"sig","type":"nominal","scale":{"domain":["p001","p01","p05"],"range":["#1e6b40","#45b555","#d8dc37"]},"legend":null}}},
{"mark":{"type":"text","align":"left","baseline":"middle","dx":10,"fontSize":16},"encoding":{"text":{"field":"term"}}}
]
},
{
"data":{"name":"legend"},
"encoding":{
"x":{"field":"col","type":"nominal","scale":{"domain":["down","up"],"range":[903.3,957.7],"paddingInner":0.17,"paddingOuter":0},"axis":null},
"y":{"field":"row","type":"nominal","scale":{"domain":["p001","p01","p05"],"range":[581,657.7],"paddingInner":0.2,"paddingOuter":0},"axis":null}
},
"layer":[
{"mark":{"type":"rect","stroke":"#f2e4e4","strokeWidth":1},"encoding":{"color":{"field":"key","type":"nominal","scale":{"domain":["down-p001","up-p001","down-p01","up-p01","down-p05","up-p05"],"range":["#1e6b40","#c0333c","#45b555","#ef603a","#d8dc37","#f8ae45"]},"legend":null}}},
{"transform":[{"filter":"datum.col==='up'"}],"mark":{"type":"text","align":"left","baseline":"middle","dx":20,"fontSize":14},"encoding":{"text":{"field":"label"}}}
]
}
],
"resolve":{"scale":{"x":"independent","y":"independent","color":"independent"},"axis":{"x":"independent","y":"independent"}}
}
